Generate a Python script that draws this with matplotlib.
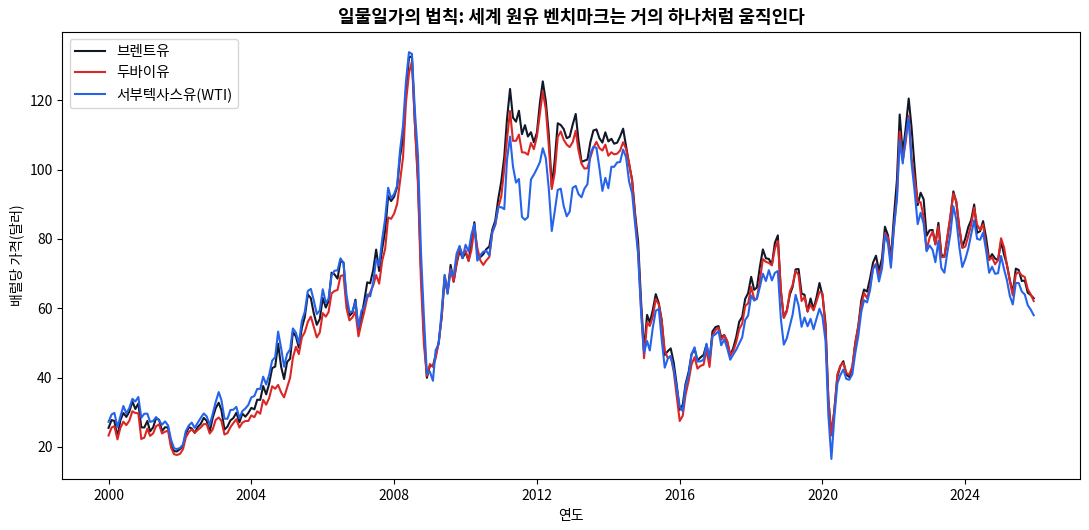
import pandas as pd
import matplotlib
matplotlib.use("Agg")
import matplotlib.pyplot as plt

plt.rcParams['font.family'] = ['Noto Sans CJK KR', 'DejaVu Sans']
plt.rcParams['axes.unicode_minus'] = False

# Monthly average prices, USD per barrel, Jan 2000 - Dec 2025
brent = [
    25.51, 27.78, 27.49, 22.76, 27.74, 29.80, 28.68, 30.20, 33.14, 30.96, 32.55, 25.66,
    25.62, 27.50, 24.50, 25.66, 28.31, 27.85, 24.61, 25.68, 25.62, 20.54, 18.80, 18.71,
    19.42, 20.28, 23.70, 25.73, 25.35, 24.08, 25.74, 26.65, 28.40, 27.54, 24.34, 28.33,
    31.18, 32.77, 30.61, 25.00, 25.86, 27.65, 28.35, 29.89, 27.11, 29.61, 28.75, 29.81,
    31.28, 30.86, 33.63, 33.59, 37.57, 35.18, 38.22, 42.74, 43.20, 49.78, 43.11, 39.60,
    44.51, 45.48, 53.10, 51.88, 48.65, 54.35, 57.52, 63.98, 62.91, 58.54, 55.24, 56.86,
    62.99, 60.21, 62.06, 70.26, 69.78, 68.56, 73.67, 73.23, 61.96, 57.81, 58.76, 62.47,
    53.68, 57.56, 62.05, 67.49, 67.21, 71.05, 76.93, 70.76, 77.17, 82.34, 92.41, 90.93,
    92.18, 94.99, 103.64, 109.07, 122.80, 132.32, 132.72, 113.24, 97.23, 71.58, 52.45, 39.95,
    43.44, 43.32, 46.54, 50.18, 57.30, 68.61, 64.44, 72.51, 67.65, 72.77, 76.66, 74.46,
    76.17, 73.75, 78.83, 84.82, 75.95, 74.76, 75.58, 77.04, 77.84, 82.67, 85.28, 91.45,
    96.52, 103.72, 114.64, 123.26, 114.99, 113.83, 116.97, 110.22, 112.83, 109.55, 110.77, 107.87,
    110.69, 119.33, 125.45, 119.75, 110.34, 95.16, 102.62, 113.36, 112.86, 111.71, 109.06, 109.49,
    112.96, 116.05, 108.47, 102.25, 102.56, 102.92, 107.93, 111.28, 111.60, 109.08, 107.79, 110.76,
    108.12, 108.90, 107.48, 107.76, 109.54, 111.80, 106.77, 101.61, 97.09, 87.43, 79.44, 62.34,
    47.76, 58.10, 55.89, 59.52, 64.08, 61.48, 56.56, 46.52, 47.62, 48.43, 44.27, 38.01,
    30.70, 32.18, 38.21, 41.58, 46.74, 48.25, 44.95, 45.84, 46.57, 49.52, 44.73, 53.31,
    54.58, 54.87, 51.59, 52.31, 50.33, 46.37, 48.48, 51.70, 56.15, 57.51, 62.71, 64.37,
    69.08, 65.32, 66.02, 72.11, 76.98, 74.41, 74.25, 72.53, 78.89, 81.03, 64.75, 57.36,
    59.41, 63.96, 66.14, 71.23, 71.32, 64.22, 63.92, 59.04, 62.83, 59.71, 63.21, 67.31,
    63.65, 55.66, 33.70, 23.50, 30.60, 40.27, 43.24, 44.74, 40.91, 40.19, 42.69, 49.99,
    54.77, 62.28, 65.41, 64.81, 68.53, 73.16, 75.17, 70.75, 74.49, 83.54, 81.05, 74.17,
    86.51, 97.13, 115.90, 104.58, 111.90, 120.50, 111.93, 100.45, 89.76, 93.33, 91.42, 80.92,
    82.50, 82.59, 78.43, 84.64, 75.47, 74.84, 80.11, 86.15, 93.72, 90.60, 82.94, 77.63,
    80.12, 83.48, 85.41, 89.94, 81.75, 82.25, 85.15, 80.36, 74.02, 75.63, 74.35, 73.86,
    79.27, 75.44, 72.73, 68.13, 64.45, 71.44, 71.04, 67.87, 67.99, 64.50, 63.80, 62.90,
]

dubai = [
    23.30, 25.60, 26.00, 22.20, 25.50, 27.30, 26.30, 27.60, 30.30, 29.80, 29.70, 22.30,
    22.70, 25.30, 23.20, 23.90, 26.00, 26.50, 23.90, 24.40, 24.70, 19.90, 17.90, 17.70,
    18.00, 19.40, 22.70, 24.30, 25.10, 24.10, 24.90, 25.60, 26.60, 26.60, 23.90, 25.00,
    27.80, 28.50, 27.50, 23.60, 24.00, 25.70, 26.90, 28.00, 25.60, 27.00, 27.50, 27.50,
    29.10, 28.60, 30.30, 29.60, 33.60, 32.20, 34.10, 37.50, 36.80, 37.90, 35.70, 34.30,
    37.10, 40.00, 45.70, 48.90, 46.80, 51.60, 53.10, 56.10, 57.60, 54.60, 51.60, 53.00,
    58.60, 57.60, 58.90, 64.30, 65.00, 65.30, 69.30, 69.60, 60.00, 56.50, 57.40, 59.00,
    51.90, 55.80, 59.00, 63.00, 64.60, 66.60, 69.60, 67.10, 73.70, 77.10, 86.20, 85.80,
    87.30, 90.10, 96.70, 103.50, 119.40, 127.80, 131.20, 112.70, 95.70, 68.10, 49.60, 40.50,
    43.90, 43.10, 45.60, 50.20, 57.50, 69.40, 65.00, 71.40, 67.70, 73.20, 77.70, 75.40,
    76.70, 73.60, 76.70, 83.10, 77.50, 73.80, 72.50, 73.80, 74.80, 81.80, 84.10, 89.00,
    92.20, 100.30, 108.80, 116.90, 108.30, 108.30, 110.10, 105.00, 104.90, 104.30, 107.70, 105.90,
    109.60, 116.20, 122.50, 117.40, 107.00, 94.40, 99.10, 109.40, 111.00, 108.60, 107.20, 106.50,
    107.90, 111.20, 105.60, 101.70, 100.30, 100.40, 103.50, 106.30, 108.00, 106.20, 105.50, 107.20,
    104.00, 105.00, 104.40, 104.60, 105.50, 107.90, 106.00, 101.80, 96.70, 86.80, 76.40, 60.30,
    45.60, 55.90, 54.90, 57.60, 62.70, 61.10, 56.20, 47.80, 45.60, 46.20, 41.70, 34.80,
    27.50, 29.00, 35.10, 39.00, 43.80, 45.90, 42.60, 43.40, 43.70, 48.00, 43.10, 52.10,
    53.70, 54.40, 50.90, 52.20, 50.60, 46.60, 47.60, 50.20, 54.00, 55.50, 60.70, 61.40,
    66.20, 62.70, 62.80, 68.30, 74.20, 73.40, 73.10, 72.40, 77.20, 79.40, 65.50, 57.20,
    59.10, 64.80, 66.70, 70.80, 69.60, 62.10, 63.30, 59.20, 61.00, 59.40, 62.00, 64.80,
    64.30, 54.20, 33.70, 23.30, 30.30, 40.90, 43.40, 44.30, 41.40, 40.80, 43.30, 49.80,
    54.80, 60.90, 64.40, 62.90, 66.10, 71.60, 72.80, 69.50, 72.60, 81.70, 80.30, 73.20,
    83.50, 92.40, 111.00, 102.60, 107.90, 115.50, 103.10, 97.20, 90.60, 90.60, 86.30, 76.80,
    80.40, 82.10, 78.50, 83.60, 74.70, 74.90, 80.60, 86.50, 93.10, 90.90, 83.40, 77.40,
    77.80, 80.90, 84.10, 89.00, 84.10, 82.60, 84.20, 77.80, 73.90, 74.70, 72.70, 73.90,
    80.20, 77.50, 72.60, 67.80, 63.70, 69.80, 70.50, 69.50, 69.00, 65.50, 64.00, 62.10,
]

wti = [
    27.26, 29.37, 29.84, 25.72, 28.79, 31.82, 29.70, 31.26, 33.88, 33.11, 34.42, 28.44,
    29.59, 29.61, 27.24, 27.49, 28.63, 27.60, 26.43, 27.37, 26.20, 22.17, 19.64, 19.39,
    19.72, 20.72, 24.53, 26.18, 27.04, 25.52, 26.97, 28.39, 29.66, 28.84, 26.35, 29.46,
    32.95, 35.83, 33.51, 28.17, 28.11, 30.66, 30.75, 31.57, 28.31, 30.34, 31.11, 32.13,
    34.31, 34.69, 36.74, 36.75, 40.28, 38.03, 40.78, 44.90, 45.94, 53.28, 48.47, 43.15,
    46.84, 48.15, 54.19, 52.98, 49.83, 56.35, 59.00, 64.99, 65.59, 62.26, 58.32, 59.41,
    65.49, 61.63, 62.69, 69.44, 70.84, 70.95, 74.41, 73.04, 63.80, 58.89, 59.08, 61.96,
    54.51, 59.28, 60.44, 63.98, 63.45, 67.49, 74.12, 72.36, 79.92, 85.80, 94.77, 91.69,
    92.97, 95.39, 105.45, 112.58, 125.40, 133.88, 133.37, 116.67, 104.11, 76.61, 57.31, 41.12,
    41.71, 39.09, 47.94, 49.65, 59.03, 69.64, 64.15, 71.05, 69.41, 75.72, 77.99, 74.47,
    78.33, 76.39, 81.20, 84.29, 73.74, 75.34, 76.32, 76.60, 75.24, 81.89, 84.25, 89.15,
    89.17, 88.58, 102.86, 109.53, 100.90, 96.26, 97.30, 86.33, 85.52, 86.32, 97.16, 98.56,
    100.27, 102.20, 106.16, 103.32, 94.66, 82.30, 87.90, 94.13, 94.51, 89.49, 86.53, 87.86,
    94.76, 95.31, 92.94, 92.02, 94.51, 95.77, 104.67, 106.57, 106.29, 100.54, 93.86, 97.63,
    94.62, 100.82, 100.80, 102.07, 102.18, 105.79, 103.59, 96.54, 93.21, 84.40, 75.79, 59.29,
    47.22, 50.58, 47.82, 54.45, 59.27, 59.82, 50.90, 42.87, 45.48, 46.22, 42.44, 37.19,
    31.68, 30.32, 37.55, 40.75, 46.71, 48.76, 44.65, 44.72, 45.18, 49.78, 45.66, 51.97,
    52.50, 53.47, 49.33, 51.06, 48.48, 45.18, 46.63, 48.04, 49.82, 51.58, 56.64, 57.88,
    63.70, 62.23, 62.73, 66.25, 69.98, 67.87, 70.98, 68.06, 70.23, 70.75, 56.96, 49.52,
    51.38, 54.95, 58.15, 63.86, 60.83, 54.66, 57.35, 54.81, 56.95, 53.96, 57.03, 59.88,
    57.52, 50.54, 29.21, 16.55, 28.56, 38.31, 40.71, 42.34, 39.63, 39.40, 40.94, 47.02,
    52.00, 59.04, 62.33, 61.72, 65.17, 71.38, 72.49, 67.73, 71.54, 81.22, 78.65, 71.71,
    83.22, 91.64, 108.50, 101.78, 109.55, 114.84, 101.62, 93.67, 84.26, 87.55, 84.37, 76.44,
    78.12, 76.83, 73.28, 79.45, 71.58, 70.25, 76.07, 81.39, 89.43, 85.64, 77.69, 71.90,
    74.15, 77.25, 81.28, 85.35, 80.02, 79.77, 81.80, 76.68, 70.24, 71.99, 69.95, 70.12,
    75.10, 71.19, 68.24, 63.54, 61.10, 67.33, 67.28, 64.86, 63.96, 60.90, 59.60, 58.00,
]

dates = pd.date_range('2000-01-01', periods=len(brent), freq='MS')

fig, ax = plt.subplots(figsize=(10.89, 5.30), dpi=100)
fig.subplots_adjust(left=0.0572, right=0.9917, top=0.940, bottom=0.0957)

ax.plot(dates, brent, color='#111827', linewidth=1.5, label='브렌트유')
ax.plot(dates, dubai, color='#dc2626', linewidth=1.5, label='두바이유')
ax.plot(dates, wti, color='#2563eb', linewidth=1.5, label='서부텍사스유(WTI)')

ax.set_title('일물일가의 법칙: 세계 원유 벤치마크는 거의 하나처럼 움직인다',
             fontsize=13, fontweight='bold')
ax.set_xlabel('연도', fontsize=10)
ax.set_ylabel('배럴당 가격(달러)', fontsize=10)
ax.legend(loc='upper left', fontsize=10.5)

fig.savefig('out.png', dpi=100)
